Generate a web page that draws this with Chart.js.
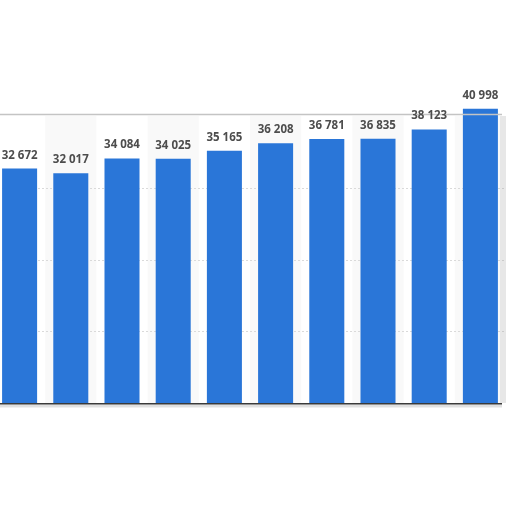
<!DOCTYPE html>
<html>
<head>
<meta charset="utf-8">
<script src="https://cdn.jsdelivr.net/npm/chart.js@4/dist/chart.umd.min.js"></script>
<style>
  html, body { margin: 0; padding: 0; background: #fff; overflow: hidden; }
  #wrap { position: absolute; left: -6px; top: 0; width: 512px; height: 512px; }
</style>
</head>
<body>
<div id="wrap"><canvas id="chart" width="512" height="512"></canvas></div>
<script>
// categories are not shown in the picture, only the bars
const categories = ['1', '2', '3', '4', '5', '6', '7', '8', '9', '10'];
const values = [32672, 32017, 34084, 34025, 35165, 36208, 36781, 36835, 38123, 40998];
const yTicks = [0, 10000, 20000, 30000, 40000];

function fmt(v) {
    return String(v).replace(/\B(?=(\d{3})+(?!\d))/g, ' ');
}

// shaded columns, frame and baseline
const framePlugin = {
    id: 'frame',
    beforeDatasetsDraw(chart) {
        const { ctx, chartArea: a, scales } = chart;
        const step = (a.right - a.left) / categories.length;
        ctx.save();
        ctx.fillStyle = '#f9f9f9';
        categories.forEach((c, i) => {
            if (i % 2 === 1) ctx.fillRect(a.left + i * step, a.top, step, a.bottom - a.top);
        });
        // dotted grid over shading
        ctx.strokeStyle = '#dadada';
        ctx.setLineDash([2, 2]);
        ctx.lineWidth = 1;
        yTicks.slice(1, -1).forEach(t => {
            const y = Math.round(scales.y.getPixelForValue(t)) + 0.5;
            ctx.beginPath();
            ctx.moveTo(a.left, y);
            ctx.lineTo(a.right, y);
            ctx.stroke();
        });
        ctx.restore();
    },
    afterDatasetsDraw(chart) {
        const { ctx, chartArea: a } = chart;
        ctx.save();
        // top and right frame
        ctx.strokeStyle = '#c4c4c4';
        ctx.lineWidth = 1.5;
        ctx.beginPath();
        ctx.moveTo(a.left, a.top - 1.5);
        ctx.lineTo(a.right - 4, a.top - 1.5);
        ctx.stroke();
        ctx.fillStyle = 'rgba(0,0,0,0.07)';
        ctx.fillRect(a.right - 6, a.top, 6, a.bottom - a.top);
        // baseline
        ctx.fillStyle = '#3a3a3a';
        ctx.fillRect(a.left, a.bottom, a.right - a.left - 4, 1.5);
        ctx.fillStyle = 'rgba(0,0,0,0.12)';
        ctx.fillRect(a.left, a.bottom + 1.5, a.right - a.left - 4, 3);
        // value labels
        ctx.fillStyle = '#4d4d4d';
        ctx.font = 'bold 11.5px "Open Sans", sans-serif';
        ctx.textAlign = 'center';
        ctx.textBaseline = 'alphabetic';
        chart.getDatasetMeta(0).data.forEach((bar, i) => {
            ctx.fillText(fmt(values[i]), bar.x, bar.y - 10);
        });
        ctx.restore();
    }
};

new Chart(document.getElementById('chart').getContext('2d'), {
    type: 'bar',
    data: {
        labels: categories,
        datasets: [{
            data: values,
            backgroundColor: '#2a76d8',
            borderWidth: 0,
            barPercentage: 0.684,
            categoryPercentage: 1,
            clip: false
        }]
    },
    options: {
        responsive: false,
        animation: false,
        layout: { padding: { top: 116, bottom: 109, left: 0, right: 0 } },
        plugins: { legend: { display: false }, tooltip: { enabled: false } },
        scales: {
            x: { display: false },
            y: {
                min: 0,
                max: 40000,
                afterBuildTicks: axis => { axis.ticks = yTicks.map(v => ({ value: v })); },
                ticks: { display: false },
                grid: { display: false, drawTicks: false },
                border: { display: false }
            }
        }
    },
    plugins: [framePlugin]
});
</script>
</body>
</html>
